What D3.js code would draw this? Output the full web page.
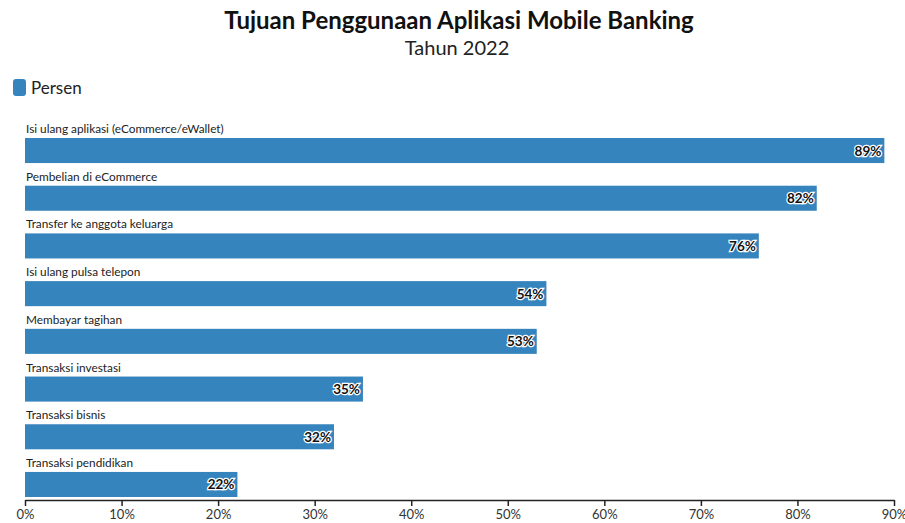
<!DOCTYPE html>
<html lang="id">
<head>
<meta charset="utf-8"/>
<title>Tujuan Penggunaan Aplikasi Mobile Banking</title>
<script src="https://d3js.org/d3.v7.min.js"></script>
<style>
    body { margin: 0; background: #fff; }
    svg { font-family: Lato, "Open Sans", sans-serif; }
</style>
</head>
<body>
<svg id="chart" width="905" height="523"></svg>
<script>
    // data
    const kategori = [
        "Isi ulang aplikasi (eCommerce/eWallet)",
        "Pembelian di eCommerce",
        "Transfer ke anggota keluarga",
        "Isi ulang pulsa telepon",
        "Membayar tagihan",
        "Transaksi investasi",
        "Transaksi bisnis",
        "Transaksi pendidikan"
    ];
    const persen = [89, 82, 76, 54, 53, 35, 32, 22];
    const ticks = [0, 10, 20, 30, 40, 50, 60, 70, 80, 90];

    const warna = "#3684bd";
    const svg = d3.select("#chart");

    const x = d3.scaleLinear().domain([0, 90]).range([25, 894]);
    const y = d3.scaleBand().domain(kategori).range([138, 497])
        .paddingInner(0.475).paddingOuter(0);

    // judul
    svg.append("text")
        .attr("x", 459).attr("y", 29)
        .attr("text-anchor", "middle")
        .style("font-size", "24px").style("font-weight", "bold")
        .style("fill", "#111")
        .text("Tujuan Penggunaan Aplikasi Mobile Banking");
    svg.append("text")
        .attr("x", 457).attr("y", 55)
        .attr("text-anchor", "middle")
        .style("font-size", "20px")
        .style("fill", "#222")
        .text("Tahun 2022");

    // legenda
    svg.append("rect")
        .attr("x", 13).attr("y", 79).attr("width", 13).attr("height", 17)
        .attr("rx", 3).style("fill", warna);
    svg.append("text")
        .attr("x", 31).attr("y", 94)
        .style("font-size", "17px").style("fill", "#222")
        .text("Persen");

    const data = kategori.map((k, i) => ({k: k, v: persen[i]}));

    // batang
    svg.selectAll("rect.bar")
        .data(data).enter()
        .append("rect")
        .attr("class", "bar")
        .attr("x", x(0))
        .attr("y", d => y(d.k))
        .attr("width", d => x(d.v) - x(0))
        .attr("height", y.bandwidth())
        .style("fill", warna);

    // label kategori
    svg.selectAll("text.kat")
        .data(data).enter()
        .append("text")
        .attr("class", "kat")
        .attr("x", x(0) + 1)
        .attr("y", d => y(d.k) - 5)
        .style("font-size", "11.8px").style("fill", "#222")
        .text(d => d.k);

    // label nilai
    svg.selectAll("text.nilai")
        .data(data).enter()
        .append("text")
        .attr("class", "nilai")
        .attr("x", d => x(d.v) - 3)
        .attr("y", d => y(d.k) + y.bandwidth() / 2 + 5)
        .attr("text-anchor", "end")
        .style("font-size", "13.5px").style("font-weight", "bold")
        .style("fill", "#111")
        .style("stroke", "#fff").style("stroke-width", "2.5px")
        .style("paint-order", "stroke")
        .text(d => d.v + "%");

    // sumbu
    const axis = d3.axisBottom(x)
        .tickValues(ticks)
        .tickFormat(d => d + "%")
        .tickSize(6)
        .tickSizeOuter(0);
    const g = svg.append("g")
        .attr("transform", "translate(0,500)")
        .call(axis);
    g.select(".domain").style("stroke", "#222").style("stroke-width", 1.5);
    g.selectAll(".tick line").style("stroke", "#222").style("stroke-width", 1.5);
    g.selectAll(".tick text")
        .attr("y", 8)
        .attr("dy", "0.85em")
        .style("font-size", "13px").style("fill", "#333")
        .style("font-family", "Lato, \"Open Sans\", sans-serif");
</script>
</body>
</html>
